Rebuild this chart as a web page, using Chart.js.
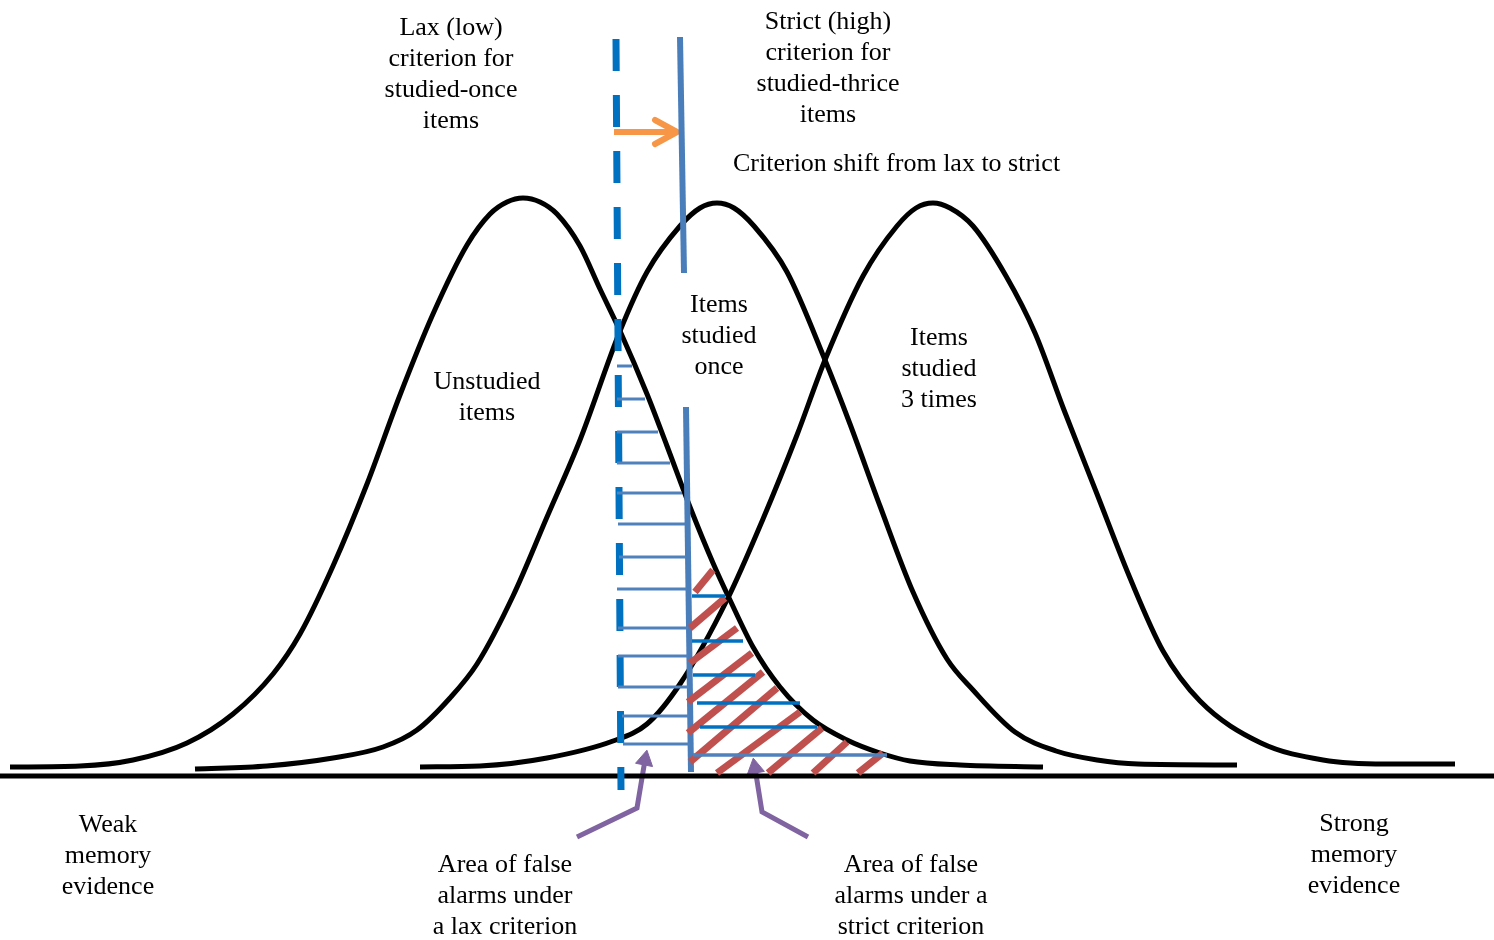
<!DOCTYPE html>
<html>
<head>
<meta charset="utf-8">
<script src="https://cdn.jsdelivr.net/npm/chart.js@4.4.1/dist/chart.umd.min.js"></script>
<style>
  html, body { margin: 0; padding: 0; background: #fff; overflow: hidden; }
  #wrap { position: relative; width: 1494px; height: 940px; }
</style>
</head>
<body>
<div id="wrap"><canvas id="sdtChart"></canvas></div>
<script>
// memory evidence (x) vs. density height above the baseline (y)
var unstudiedX = [10, 80, 133, 187, 233, 273, 300, 333, 367, 400, 433, 467, 490, 507, 523, 540, 557, 580, 600, 620, 647, 667, 690, 713, 730, 753, 780, 813, 847, 880, 910, 960, 1043];
var unstudiedY = [9, 10, 16, 33, 62, 102, 142, 210, 292, 381, 462, 531, 562, 574, 578, 574, 562, 530, 487, 445, 382, 330, 269, 213, 176, 129, 89, 56, 36, 23, 15, 11, 9];

var onceX = [195, 267, 333, 383, 417, 450, 477, 513, 547, 580, 620, 647, 680, 700, 717, 734, 754, 787, 825, 850, 880, 913, 947, 973, 1015, 1056, 1097, 1138, 1237];
var onceY = [7, 10, 18, 29, 46, 78, 112, 180, 259, 336, 445, 504, 550, 568, 573, 568, 550, 504, 416, 352, 270, 184, 117, 86, 44, 25, 16, 12, 11];

var thriceX = [420, 480, 547, 613, 647, 680, 727, 763, 797, 825, 863, 897, 916, 933, 950, 973, 1006, 1035, 1064, 1097, 1130, 1163, 1200, 1261, 1323, 1385, 1455];
var thriceY = [9, 10, 18, 35, 52, 92, 176, 257, 341, 416, 500, 550, 568, 573, 568, 550, 500, 443, 366, 282, 198, 125, 75, 33, 16, 12, 12];

var axisX = [0, 1494];
var axisY = [0, 0];

// criteria
var laxX = [616, 621];
var laxY = [737, -14];
var strictTopX = [680, 684];
var strictTopY = [739, 503];
var strictLowX = [686, 691];
var strictLowY = [369, 4];

// shift arrow
var shiftX = [614, 674];
var shiftY = [644, 644];
var shiftHeadX = [655, 677, 655];
var shiftHeadY = [656, 644, 632];

// blue hatching: false alarms under the lax criterion
var laxHatchY = [410, 377, 344, 313, 283, 252, 219, 187, 148, 120, 89, 60, 32];
var laxHatchX0 = [617, 617, 617, 617, 617, 618, 619, 617, 618, 618, 618, 622, 623];
var laxHatchX1 = [632, 645, 658, 670, 682, 685, 686, 687, 688, 688, 689, 689, 690];
var tailHatchY = [180, 135, 101, 73, 49, 21];
var tailHatchX0 = [692, 692, 693, 697, 700, 693];
var tailHatchX1 = [725, 743, 755, 800, 817, 887];

// red hatching: false alarms under the strict criterion
var redX0 = [695, 690, 690, 688, 688, 690, 717, 768, 813, 858];
var redY0 = [184, 148, 113, 74, 43, 14, 3, 3, 3, 3];
var redX1 = [713, 725, 737, 752, 763, 777, 800, 822, 847, 883];
var redY1 = [206, 178, 148, 123, 104, 88, 64, 48, 34, 23];

// callout arrows
var laxCalloutX = [577, 637, 645];
var laxCalloutY = [-61, -32, 16];
var strictCalloutX = [808, 762, 755];
var strictCalloutY = [-61, -36, 8];

var labels = [
  { lines: ["Lax (low)", "criterion for", "studied-once", "items"], x: 451, y: 741, align: "center" },
  { lines: ["Strict (high)", "criterion for", "studied-thrice", "items"], x: 828, y: 747, align: "center" },
  { lines: ["Criterion shift from lax to strict"], x: 733, y: 605, align: "left" },
  { lines: ["Unstudied", "items"], x: 487, y: 387, align: "center" },
  { lines: ["Items", "studied", "once"], x: 719, y: 464, align: "center" },
  { lines: ["Items", "studied", "3 times"], x: 939, y: 431, align: "center" },
  { lines: ["Weak", "memory", "evidence"], x: 108, y: -56, align: "center" },
  { lines: ["Area of false", "alarms under", "a lax criterion"], x: 505, y: -96, align: "center" },
  { lines: ["Area of false", "alarms under a", "strict criterion"], x: 911, y: -96, align: "center" },
  { lines: ["Strong", "memory", "evidence"], x: 1354, y: -55, align: "center" }
];

function pts(xs, ys) {
  return xs.map(function (x, i) { return { x: x, y: ys[i] }; });
}

function line(xs, ys, color, width, extra) {
  var ds = {
    data: pts(xs, ys),
    showLine: true,
    borderColor: color,
    borderWidth: width,
    pointRadius: 0,
    tension: 0
  };
  return Object.assign(ds, extra || {});
}

var datasets = [];

laxHatchY.forEach(function (y, i) {
  datasets.push(line([laxHatchX0[i], laxHatchX1[i]], [y, y], "#4F81BD", 3));
});
tailHatchY.forEach(function (y, i) {
  datasets.push(line([tailHatchX0[i], tailHatchX1[i]], [y, y], i == tailHatchY.length - 1 ? "#4F81BD" : "#0070C0", 3.5));
});
redX0.forEach(function (x, i) {
  datasets.push(line([x, redX1[i]], [redY0[i], redY1[i]], "#C0504D", 7));
});

datasets.push(line(laxX, laxY, "#0070C0", 7, { borderDash: [32, 24] }));
datasets.push(line(strictTopX, strictTopY, "#4A7EBB", 6));
datasets.push(line(strictLowX, strictLowY, "#4A7EBB", 6));

datasets.push(line(shiftX, shiftY, "#F79646", 6));
datasets.push(line(shiftHeadX, shiftHeadY, "#F79646", 6, { borderCapStyle: "round", borderJoinStyle: "round" }));

var curveOpts = { cubicInterpolationMode: "monotone" };
datasets.push(line(unstudiedX, unstudiedY, "#000", 5, curveOpts));
datasets.push(line(onceX, onceY, "#000", 5, curveOpts));
datasets.push(line(thriceX, thriceY, "#000", 5, curveOpts));
datasets.push(line(axisX, axisY, "#000", 5));

datasets.push(line(laxCalloutX, laxCalloutY, "#8064A2", 5));
datasets.push(line(strictCalloutX, strictCalloutY, "#8064A2", 5));
datasets.push({
  data: [pts(laxCalloutX, laxCalloutY)[2], pts(strictCalloutX, strictCalloutY)[2]],
  showLine: false,
  pointStyle: "triangle",
  pointRadius: 10,
  rotation: [11, -10],
  backgroundColor: "#8064A2",
  borderColor: "#8064A2",
  borderWidth: 1
});

var textPlugin = {
  id: "figureText",
  afterDatasetsDraw: function (chart) {
    var ctx = chart.ctx;
    var xs = chart.scales.x, ys = chart.scales.y;
    ctx.save();
    ctx.fillStyle = "#000";
    ctx.font = "26px 'Liberation Serif', 'Times New Roman', 'DejaVu Serif', serif";
    ctx.textBaseline = "alphabetic";
    labels.forEach(function (lab) {
      ctx.textAlign = lab.align;
      var px = xs.getPixelForValue(lab.x);
      var py = ys.getPixelForValue(lab.y);
      lab.lines.forEach(function (t, i) {
        ctx.fillText(t, px, py + i * 31);
      });
    });
    ctx.restore();
  }
};

var ctx = document.getElementById("sdtChart").getContext("2d");
var sdtChart = new Chart(ctx, {
  type: "scatter",
  data: { datasets: datasets },
  options: {
    responsive: true,
    maintainAspectRatio: false,
    animation: false,
    events: [],
    layout: { padding: 0, autoPadding: false },
    scales: {
      x: { type: "linear", min: 0, max: 1494, display: false },
      y: { type: "linear", min: -164, max: 776, display: false }
    },
    plugins: {
      legend: { display: false },
      tooltip: { enabled: false }
    }
  },
  plugins: [textPlugin]
});
</script>
</body>
</html>
